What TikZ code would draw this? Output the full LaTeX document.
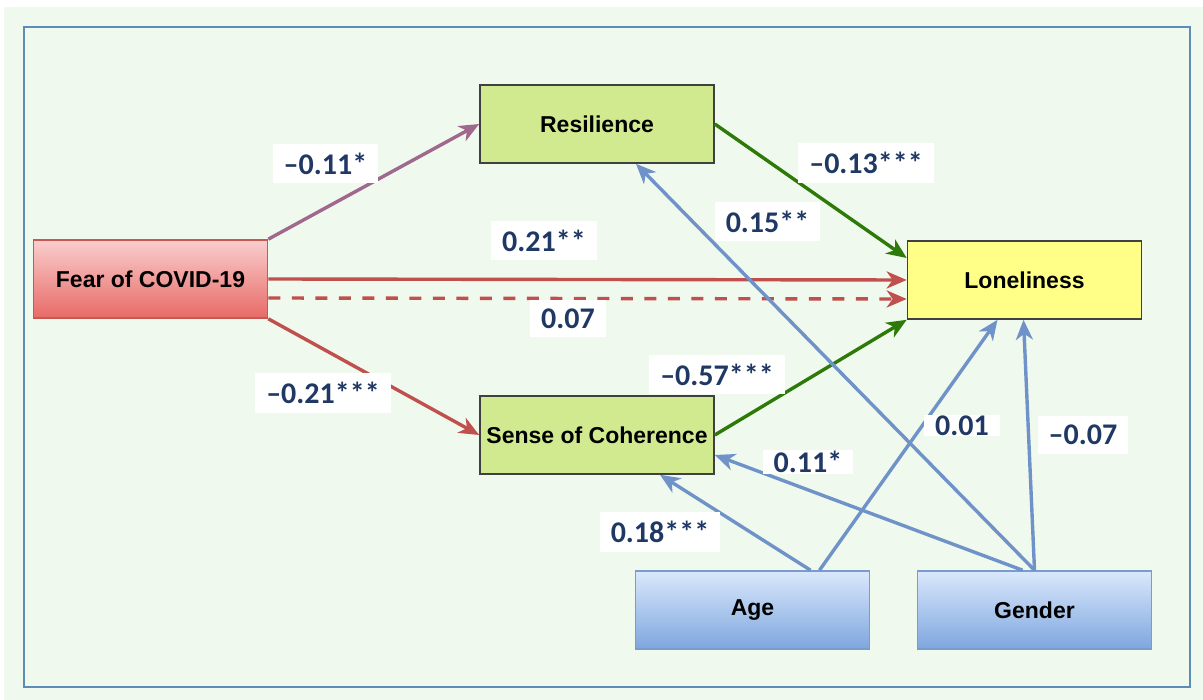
\documentclass[tikz,border=0pt]{standalone}
\usepackage{fontspec}
\setmainfont{Liberation Sans}
\newfontfamily\coeffont{Carlito}
\usepackage{xcolor}
\usepackage{tikz}
\usetikzlibrary{arrows.meta,positioning,calc}

\definecolor{bgGreen}{RGB}{240,249,238}
\definecolor{frameBlue}{RGB}{91,141,184}
\definecolor{fearTop}{RGB}{249,206,206}
\definecolor{fearBot}{RGB}{232,106,102}
\definecolor{fearLine}{RGB}{200,88,84}
\definecolor{medGreen}{RGB}{209,234,143}
\definecolor{lonYellow}{RGB}{255,255,136}
\definecolor{covTop}{RGB}{218,232,252}
\definecolor{covBot}{RGB}{126,166,222}
\definecolor{covLine}{RGB}{122,156,204}
\definecolor{pathPurple}{RGB}{160,104,140}
\definecolor{pathRed}{RGB}{192,80,77}
\definecolor{pathGreen}{RGB}{45,122,8}
\definecolor{pathBlue}{RGB}{111,147,200}
\definecolor{coefNavy}{RGB}{31,56,100}

\begin{document}
\begin{tikzpicture}[x=1pt,y=-1pt,
  varbox/.style={rectangle,minimum width=234pt,minimum height=78pt,inner sep=0pt,
    font=\fontsize{23}{27}\selectfont\bfseries,line width=1.6pt},
  medbox/.style={varbox,draw=black!75,fill=medGreen},
  covbox/.style={varbox,draw=covLine,top color=covTop,bottom color=covBot},
  effect/.style={line width=3.4pt,-{Stealth[length=20pt,width=17pt,inset=6pt]}},
  coef/.style={fill=white,text=coefNavy,inner xsep=11pt,inner ysep=9pt,
    font=\coeffont\fontsize{30}{34}\selectfont\bfseries}]
\useasboundingbox (0,0) rectangle (1203,700);
\fill[white] (0,0) rectangle (1203,700);
\fill[bgGreen] (4,7) rectangle (1203,700);
\draw[frameBlue,line width=1.5pt] (24,27) rectangle (1190,687);

\node[varbox,draw=fearLine,top color=fearTop,bottom color=fearBot] (fear) at (150.5,279) {Fear of COVID-19};
\node[medbox] (res) at (597,124) {Resilience};
\node[medbox] (soc) at (597,435) {Sense of Coherence};
\node[varbox,draw=black!75,fill=lonYellow] (lon) at (1024.5,280) {Loneliness};
\node[covbox] (age) at (752.5,610) {Age};
\node[covbox] (gen) at (1034.5,610) {Gender};

\draw[effect,pathPurple] (fear.north east) -- (res.west);
\draw[effect,pathRed] (fear.east) -- (lon.west);
\draw[effect,pathRed,dash pattern=on 12pt off 11.5pt] ([yshift=-19pt]fear.east) -- ([yshift=-19pt]lon.west);
\draw[effect,pathRed] (fear.south east) -- (soc.west);
\draw[effect,pathGreen] (res.east) -- ([yshift=22pt]lon.west);
\draw[effect,pathGreen] (soc.east) -- (lon.south west);
\draw[effect,pathBlue] ([xshift=58pt]age.north) -- ([xshift=63pt]soc.south);
\draw[effect,pathBlue] ([xshift=67pt]age.north) -- ([xshift=-27pt]lon.south);
\draw[effect,pathBlue] ([xshift=-12pt]gen.north) -- ([yshift=-20pt]soc.east);
\draw[effect,pathBlue] (gen.north) -- ([xshift=39pt]res.south);
\draw[effect,pathBlue] (gen.north) -- ([xshift=-1pt]lon.south);

\node[coef] (cFR) at (325.5,163.5) {–0.11*};
\node[coef] (cFL) at (544,240.5) {0.21**};
\node[coef] (cFLd) at (568,318.5) {0.07};
\node[coef] (cFS) at (323,393) {–0.21***};
\node[coef] (cRL) at (866,163) {–0.13***};
\node[coef] (cGR) at (767.5,221.5) {0.15**};
\node[coef] (cSL) at (717,374.5) {–0.57***};
\node[coef,inner ysep=1pt] (cGS) at (808,462) {0.11*};
\node[coef] (cAS) at (660,532) {0.18***};
\node[coef,inner ysep=1pt] (cAL) at (962,425.5) {0.01};
\node[coef] (cGL) at (1083,435) {–0.07};
\end{tikzpicture}
\end{document}
